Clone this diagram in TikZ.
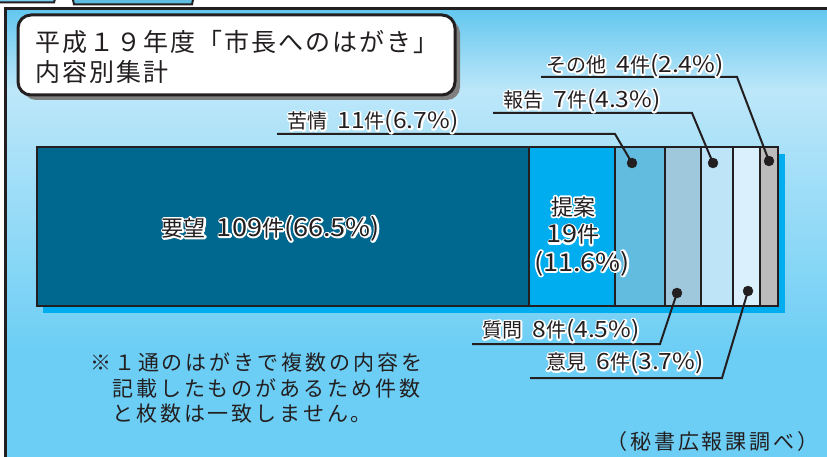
\documentclass[tikz,border=0pt]{standalone}
\usepackage{fontspec}
\setmainfont{Noto Sans CJK JP}
\newfontfamily\latfont[Scale=1.12,FakeStretch=1.1]{Noto Sans CJK JP}
\newfontfamily\widefont[LetterSpace=14]{Noto Sans CJK JP}
\newfontfamily\titlefont[LetterSpace=8]{Noto Sans CJK JP}
\newcommand{\lat}[1]{{\latfont #1}}
% white outline under the text
\newcommand{\halo}[1]{\makebox[0pt][l]{\color{white}\special{pdf:literal direct 1 Tr 1 j 3.5 w}#1\special{pdf:literal direct 0 Tr 1 w 0 j}}#1}
\usetikzlibrary{backgrounds}
\pgfdeclarelayer{bglayer}
\pgfdeclarelayer{edgelayer}
\pgfdeclarelayer{nodelayer}
\pgfsetlayers{bglayer,edgelayer,nodelayer,main}
\definecolor{ink}{HTML}{231F20}
\definecolor{skytop}{HTML}{63C7EF}
\definecolor{skylight}{HTML}{BDE7F9}
\definecolor{sky}{HTML}{6DCEF5}
\definecolor{tabA}{HTML}{7ACDEF}
\definecolor{tabB}{HTML}{5EBEE2}
\definecolor{shadowgray}{HTML}{7F7F7F}
\definecolor{youbou}{HTML}{00678F}
\definecolor{teian}{HTML}{00AEEF}
\definecolor{kujou}{HTML}{62BCDF}
\definecolor{shitsumon}{HTML}{A0C8DC}
\definecolor{houkoku}{HTML}{BEE4F8}
\definecolor{iken}{HTML}{DAF0FC}
\definecolor{sonota}{HTML}{BCBCBC}
\tikzset{font=\fontsize{20}{24}\selectfont}
\tikzstyle{none}=[inner sep=0pt]
\tikzstyle{circ}=[circle,fill=ink,draw=ink,inner sep=0pt,minimum size=10pt]
\tikzstyle{lbl}=[inner sep=0pt,anchor=base,text=ink]
\tikzstyle{biglbl}=[lbl,font=\fontsize{22}{26}\selectfont]
\tikzstyle{note}=[inner sep=0pt,anchor=base west,text=ink,font=\widefont\fontsize{21}{25}\selectfont]
\tikzstyle{title}=[inner sep=0pt,anchor=base west,text=ink,font=\titlefont\fontsize{25}{27}\selectfont]
\tikzstyle{frame}=[draw=ink,line width=3pt]
\tikzstyle{tab}=[draw=ink,line width=2pt]
\tikzstyle{seg}=[draw=ink,line width=1.3pt]
\tikzstyle{lead}=[draw=ink,line width=2pt]

\begin{document}
\begin{tikzpicture}[x=1pt,y=-1pt]
	\useasboundingbox (0,0) rectangle (827,457);
	\begin{pgfonlayer}{bglayer}
		% panel
		\fill[white] (0,0) rectangle (827,457);
		\fill[sky] (5,8) rectangle (827,457);
		\shade[top color=skytop,bottom color=skylight] (5,9) rectangle (827,90);
		\shade[top color=skylight,bottom color=sky] (5,89.5) rectangle (827,350);
		\draw[style=frame] (5.5,460) -- (5.5,8.5) -- (830,8.5);
		\draw[style=tab,fill=tabA] (-3,-5) -- (56,-5) -- (54,2.5) -- (-3,2.5) -- cycle;
		\draw[style=tab,fill=tabB] (72,-5) -- (74,4.5) -- (192,4.5) -- (194,-5);
		% title box
		\fill[shadowgray,rounded corners=13pt] (23,20) rectangle (460,100);
		\draw[style=frame,fill=white,rounded corners=13pt] (18,15) rectangle (455,95);
		% bar
		\fill[teian] (43,154) rectangle (785,313);
		\draw[style=seg,fill=youbou] (37,147) rectangle (529,306);
		\draw[style=seg,fill=teian] (529,147) rectangle (615,306);
		\draw[style=seg,fill=kujou] (615,147) rectangle (665,306);
		\draw[style=seg,fill=shitsumon] (665,147) rectangle (701,306);
		\draw[style=seg,fill=houkoku] (701,147) rectangle (733,306);
		\draw[style=seg,fill=iken] (733,147) rectangle (760,306);
		\draw[style=seg,fill=sonota] (760,147) rectangle (778,306);
	\end{pgfonlayer}
	\begin{pgfonlayer}{nodelayer}
		\node [style=circ] (0) at (632, 163) {};
		\node [style=circ] (1) at (713, 163) {};
		\node [style=circ] (2) at (769, 161) {};
		\node [style=circ] (3) at (677, 293) {};
		\node [style=circ] (4) at (748, 291) {};
		\node [style=none] (5) at (277, 134) {};
		\node [style=none] (6) at (615, 134) {};
		\node [style=none] (7) at (493, 113) {};
		\node [style=none] (8) at (692, 113) {};
		\node [style=none] (9) at (541, 77) {};
		\node [style=none] (10) at (737, 77) {};
		\node [style=none] (11) at (472, 344) {};
		\node [style=none] (12) at (660, 344) {};
		\node [style=none] (13) at (530, 378) {};
		\node [style=none] (14) at (722, 378) {};
		\node [style=lbl] (15) at (373, 128.6) {\halo{苦情\enskip\lat{11}件\lat{(6.7\%)}}};
		\node [style=lbl] (16) at (582, 107.6) {\halo{報告\enskip\lat{7}件\lat{(4.3\%)}}};
		\node [style=lbl] (17) at (635, 72.6) {\halo{その他\enskip\lat{4}件\lat{(2.4\%)}}};
		\node [style=lbl] (18) at (561, 337.6) {\halo{質問\enskip\lat{8}件\lat{(4.5\%)}}};
		\node [style=lbl] (19) at (625, 369.6) {\halo{意見\enskip\lat{6}件\lat{(3.7\%)}}};
		\node [style=biglbl] (20) at (271, 236.4) {\halo{要望\enskip\lat{109}件\lat{(66.5\%)}}};
		\node [style=biglbl] (21) at (573, 215) {\halo{提案}};
		\node [style=biglbl] (22) at (573, 243) {\halo{\lat{19}件}};
		\node [style=biglbl] (23) at (582, 271) {\halo{\lat{(11.6\%)}}};
		\node [style=title] (24) at (35, 52) {平成１９年度「市長へのはがき」};
		\node [style=title] (25) at (35, 82) {内容別集計};
		\node [style=note] (26) at (90, 370) {※１通のはがきで複数の内容を};
		\node [style=note] (27) at (112, 396) {記載したものがあるため件数};
		\node [style=note] (28) at (112, 421) {と枚数は一致しません。};
		\node [style=note] (29) at (606, 449) {（秘書広報課調べ）};
	\end{pgfonlayer}
	\begin{pgfonlayer}{edgelayer}
		\draw [style=lead] (5.center) to (6.center) to (0.center);
		\draw [style=lead] (7.center) to (8.center) to (1.center);
		\draw [style=lead] (9.center) to (10.center) to (2.center);
		\draw [style=lead] (11.center) to (12.center) to (3.center);
		\draw [style=lead] (13.center) to (14.center) to (4.center);
	\end{pgfonlayer}
\end{tikzpicture}
\end{document}
